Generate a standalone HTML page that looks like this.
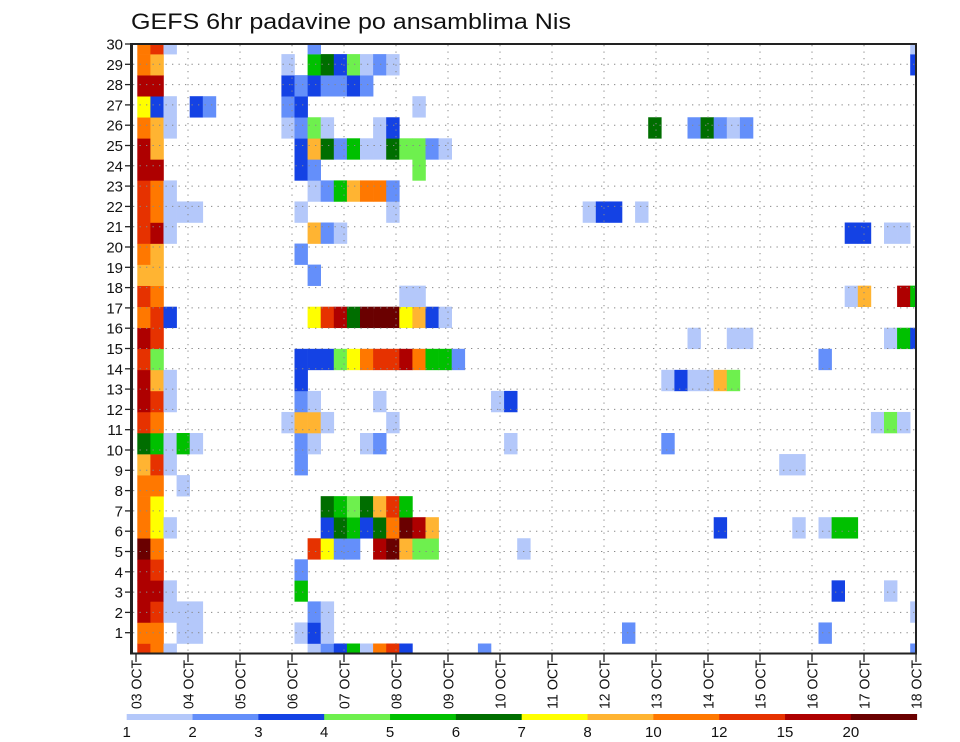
<!DOCTYPE html>
<html><head><meta charset="utf-8"><style>
html,body{margin:0;padding:0;background:#fff;}
svg{display:block;font-family:"Liberation Sans",sans-serif;}
</style></head><body>
<svg id="s" width="960" height="742" viewBox="0 0 960 742" xmlns="http://www.w3.org/2000/svg">
<rect width="960" height="742" fill="#fff"/>
<text x="131" y="29" font-size="22" textLength="440" lengthAdjust="spacingAndGlyphs" fill="#111">GEFS 6hr padavine po ansamblima Nis</text>
<g id="cells"></g>
<g id="grid"></g>
<rect x="131" y="44" width="785" height="609.5" fill="none" stroke="#222" stroke-width="2"/>
<line x1="131.5" y1="44" x2="131.5" y2="654" stroke="#222" stroke-width="3"/>
<g id="axes"></g>
<g id="cbar"></g>
</svg>
<script>
(function(){
var C={a:"#b4c8fa",b:"#648ffa",c:"#1442e4",d:"#6ef04e",e:"#00c000",f:"#006e00",g:"#ffff00",h:"#ffb432",i:"#ff7800",j:"#e63200",k:"#ae0000",l:"#6a0000"};
var R={
29:"0i 1j 2a 13b 59a",
28:"0i 1h 11a 13e 14f 15c 16d 17a 18b 19a 59c",
27:"0k 1k 11c 12b 13c 14b 15b 16c 17b",
26:"0g 1c 2a 4c 5b 11b 12c 21a",
25:"0i 1h 2a 11a 12b 13d 14a 18a 19c 39f 42b 43f 44b 45a 46b",
24:"0k 1h 12c 13h 14f 15b 16e 17a 18a 19f 20d 21d 22b 23a",
23:"0k 1k 12c 13b 21d",
22:"0j 1i 2a 13a 14b 15e 16h 17i 18i 19b",
21:"0j 1i 2a 3a 4a 12a 19a 34a 35c 36c 38a",
20:"0j 1k 2a 13h 14b 15a 54c 55c 57a 58a",
19:"0i 1h 12b",
18:"0h 1h 13b",
17:"0j 1i 20a 21a 54a 55h 58k 59e",
16:"0i 1j 2c 13g 14j 15k 16f 17l 18l 19l 20g 21h 22c 23a",
15:"0k 1j 42a 45a 46a 57a 58e 59c",
14:"0j 1d 12c 13c 14c 15d 16g 17i 18j 19j 20k 21i 22e 23e 24b 52b",
13:"0k 1h 2a 12c 40a 41c 42a 43a 44h 45d",
12:"0k 1j 2a 12b 13a 18a 27a 28c",
11:"0j 1i 11a 12h 13h 14a 19a 56a 57d 58a",
10:"0f 1e 2a 3e 4a 12b 13a 17a 18b 28a 40b",
9:"0h 1j 2a 12b 49a 50a",
8:"0i 1i 3a",
7:"0i 1g 14f 15e 16d 17f 18h 19j 20e",
6:"0i 1g 2a 14c 15f 16e 17c 18f 19i 20l 21k 22h 44c 50a 52a 53e 54e",
5:"0l 1i 13j 14g 15b 16b 18k 19l 20h 21d 22d 29a",
4:"0k 1j 12b",
3:"0k 1k 2a 12e 53c 57a",
2:"0k 1j 2a 3a 4a 13b 14a 59a",
1:"0i 1i 3a 4a 12a 13c 14a 37b 52b",
0:"0j 1i 2a 13a 14b 15c 16e 17a 18i 19j 20c 26b 59b"
};
var NS="http://www.w3.org/2000/svg";
function el(t,a,p,txt){var e=document.createElementNS(NS,t);for(var k in a)e.setAttribute(k,a[k]);if(txt!=null)e.textContent=txt;p.appendChild(e);return e;}
var cells=document.getElementById("cells");
var X0=137.3,W=13.1,H=21.05,B=643.5;
Object.keys(R).forEach(function(rs){
 var r=parseInt(rs,10);
 var y0,y1;
 if(r===0){y0=643.5;y1=653;}else{y0=B-H*r;y1=B-H*(r-1);}
 if(y0<44)y0=44;
 R[rs].split(" ").forEach(function(it){var c=parseInt(it,10),k=it.replace(/[0-9]/g,"");
  var x=X0+c*W,w=W; if(x+w>916)w=916-x;
  el("rect",{x:x.toFixed(2),y:y0.toFixed(2),width:(w+0.3).toFixed(2),height:(y1-y0+0.3).toFixed(2),fill:C[k]},cells);});
});
var g=document.getElementById("grid"),ax=document.getElementById("axes");
for(var d=1;d<15;d++){var x=136+52*d;el("line",{x1:x,y1:45,x2:x,y2:652,stroke:"#888","stroke-width":1,"stroke-dasharray":"1.3,5.2"},g);}
for(var n=0;n<=30;n++){var y=44+(30-n)*20.3;
 if(n>0&&n<30)el("line",{x1:133,y1:y,x2:915,y2:y,stroke:"#888","stroke-width":1,"stroke-dasharray":"1.3,5.2"},g);
 if(n>0){el("line",{x1:125,y1:y,x2:132,y2:y,stroke:"#222","stroke-width":1.3},ax);
 el("text",{x:123,y:y+5.5,"font-size":15,"text-anchor":"end",fill:"#111"},ax,String(n));}
}
for(var d2=0;d2<16;d2++){var xx=136+52*d2;
 el("line",{x1:xx,y1:653,x2:xx,y2:662,stroke:"#222","stroke-width":1.3},ax);
 var lab=(d2+3<10?"0":"")+(d2+3)+" OCT";
 el("text",{x:0,y:0,"font-size":15,"text-anchor":"start",fill:"#111",transform:"translate("+(xx+5.5)+",709) rotate(-90)",textLength:"49",lengthAdjust:"spacingAndGlyphs"},ax,lab);
}
var cb=document.getElementById("cbar"),cols="abcdefghijkl",labs=["1","2","3","4","5","6","7","8","10","12","15","20"];
var cw=(916.7-126.7)/12;
for(var i=0;i<12;i++){var x2=126.7+i*cw;
 el("rect",{x:x2.toFixed(2),y:714,width:(cw+0.4).toFixed(2),height:6,fill:C[cols[i]]},cb);
 el("text",{x:x2.toFixed(2),y:737,"font-size":15,"text-anchor":"middle",fill:"#111"},cb,labs[i]);
}
})();
</script>
</body></html>
